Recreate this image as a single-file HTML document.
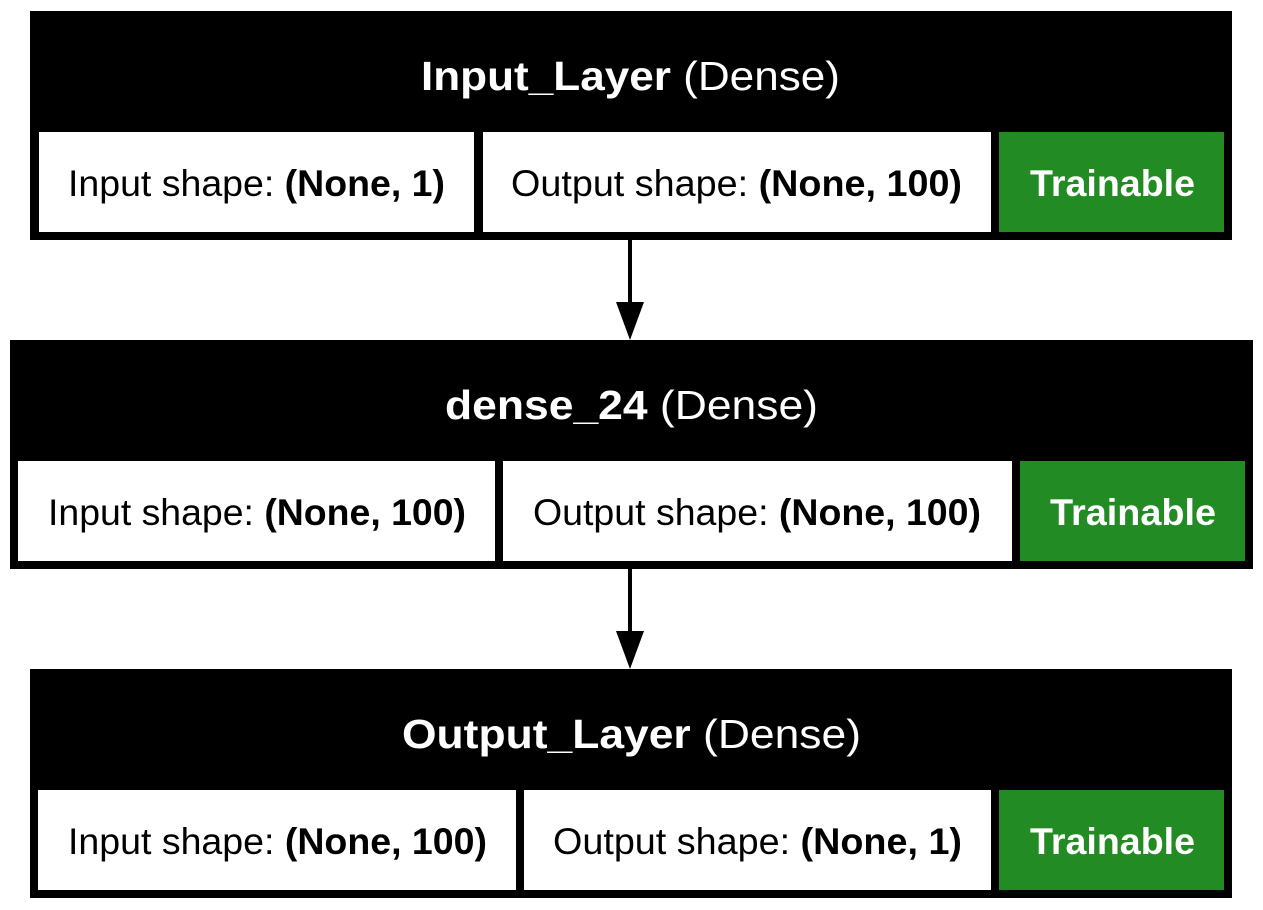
<!DOCTYPE html>
<html><head><meta charset="utf-8"><style>
html,body{margin:0;padding:0;background:#fff;}
svg{display:block;font-family:"Liberation Sans",Arial,sans-serif;}
</style></head><body>
<svg width="1263" height="910" viewBox="0 0 1263 910">
<g>
<rect x="30" y="11" width="1202" height="229" fill="#000"/>
<text x="421" y="90" font-size="41" fill="#fff" textLength="419" lengthAdjust="spacingAndGlyphs"><tspan font-weight="bold">Input_Layer</tspan> (Dense)</text>
<rect x="39" y="132" width="435" height="100" fill="#fff"/>
<text x="68" y="196" font-size="37" textLength="377" lengthAdjust="spacingAndGlyphs">Input shape: <tspan font-weight="bold">(None, 1)</tspan></text>
<rect x="483" y="132" width="508" height="100" fill="#fff"/>
<text x="511" y="196" font-size="37" textLength="451" lengthAdjust="spacingAndGlyphs">Output shape: <tspan font-weight="bold">(None, 100)</tspan></text>
<rect x="999" y="132" width="225" height="100" fill="#238b23"/>
<text x="1030" y="196" font-size="37" font-weight="bold" fill="#fff" textLength="165" lengthAdjust="spacingAndGlyphs">Trainable</text>
</g>
<g>
<line x1="630" y1="240" x2="630" y2="305" stroke="#000" stroke-width="4"/>
<polygon points="616,302 644,302 630,340" fill="#000"/>
</g>
<g>
<rect x="10" y="340" width="1243" height="229" fill="#000"/>
<text x="445" y="419" font-size="41" fill="#fff" textLength="373" lengthAdjust="spacingAndGlyphs"><tspan font-weight="bold">dense_24</tspan> (Dense)</text>
<rect x="18" y="461" width="477" height="100" fill="#fff"/>
<text x="48" y="525" font-size="37" textLength="418" lengthAdjust="spacingAndGlyphs">Input shape: <tspan font-weight="bold">(None, 100)</tspan></text>
<rect x="503" y="461" width="509" height="100" fill="#fff"/>
<text x="533" y="525" font-size="37" textLength="448" lengthAdjust="spacingAndGlyphs">Output shape: <tspan font-weight="bold">(None, 100)</tspan></text>
<rect x="1020" y="461" width="225" height="100" fill="#238b23"/>
<text x="1050" y="525" font-size="37" font-weight="bold" fill="#fff" textLength="166" lengthAdjust="spacingAndGlyphs">Trainable</text>
</g>
<g>
<line x1="630" y1="569" x2="630" y2="634" stroke="#000" stroke-width="4"/>
<polygon points="616,631 644,631 630,669" fill="#000"/>
</g>
<g>
<rect x="30" y="669" width="1202" height="229" fill="#000"/>
<text x="402" y="748" font-size="41" fill="#fff" textLength="459" lengthAdjust="spacingAndGlyphs"><tspan font-weight="bold">Output_Layer</tspan> (Dense)</text>
<rect x="38" y="790" width="478" height="100" fill="#fff"/>
<text x="68" y="854" font-size="37" textLength="419" lengthAdjust="spacingAndGlyphs">Input shape: <tspan font-weight="bold">(None, 100)</tspan></text>
<rect x="524" y="790" width="467" height="100" fill="#fff"/>
<text x="553" y="854" font-size="37" textLength="409" lengthAdjust="spacingAndGlyphs">Output shape: <tspan font-weight="bold">(None, 1)</tspan></text>
<rect x="999" y="790" width="225" height="100" fill="#238b23"/>
<text x="1030" y="854" font-size="37" font-weight="bold" fill="#fff" textLength="165" lengthAdjust="spacingAndGlyphs">Trainable</text>
</g>
</svg>
</body></html>
